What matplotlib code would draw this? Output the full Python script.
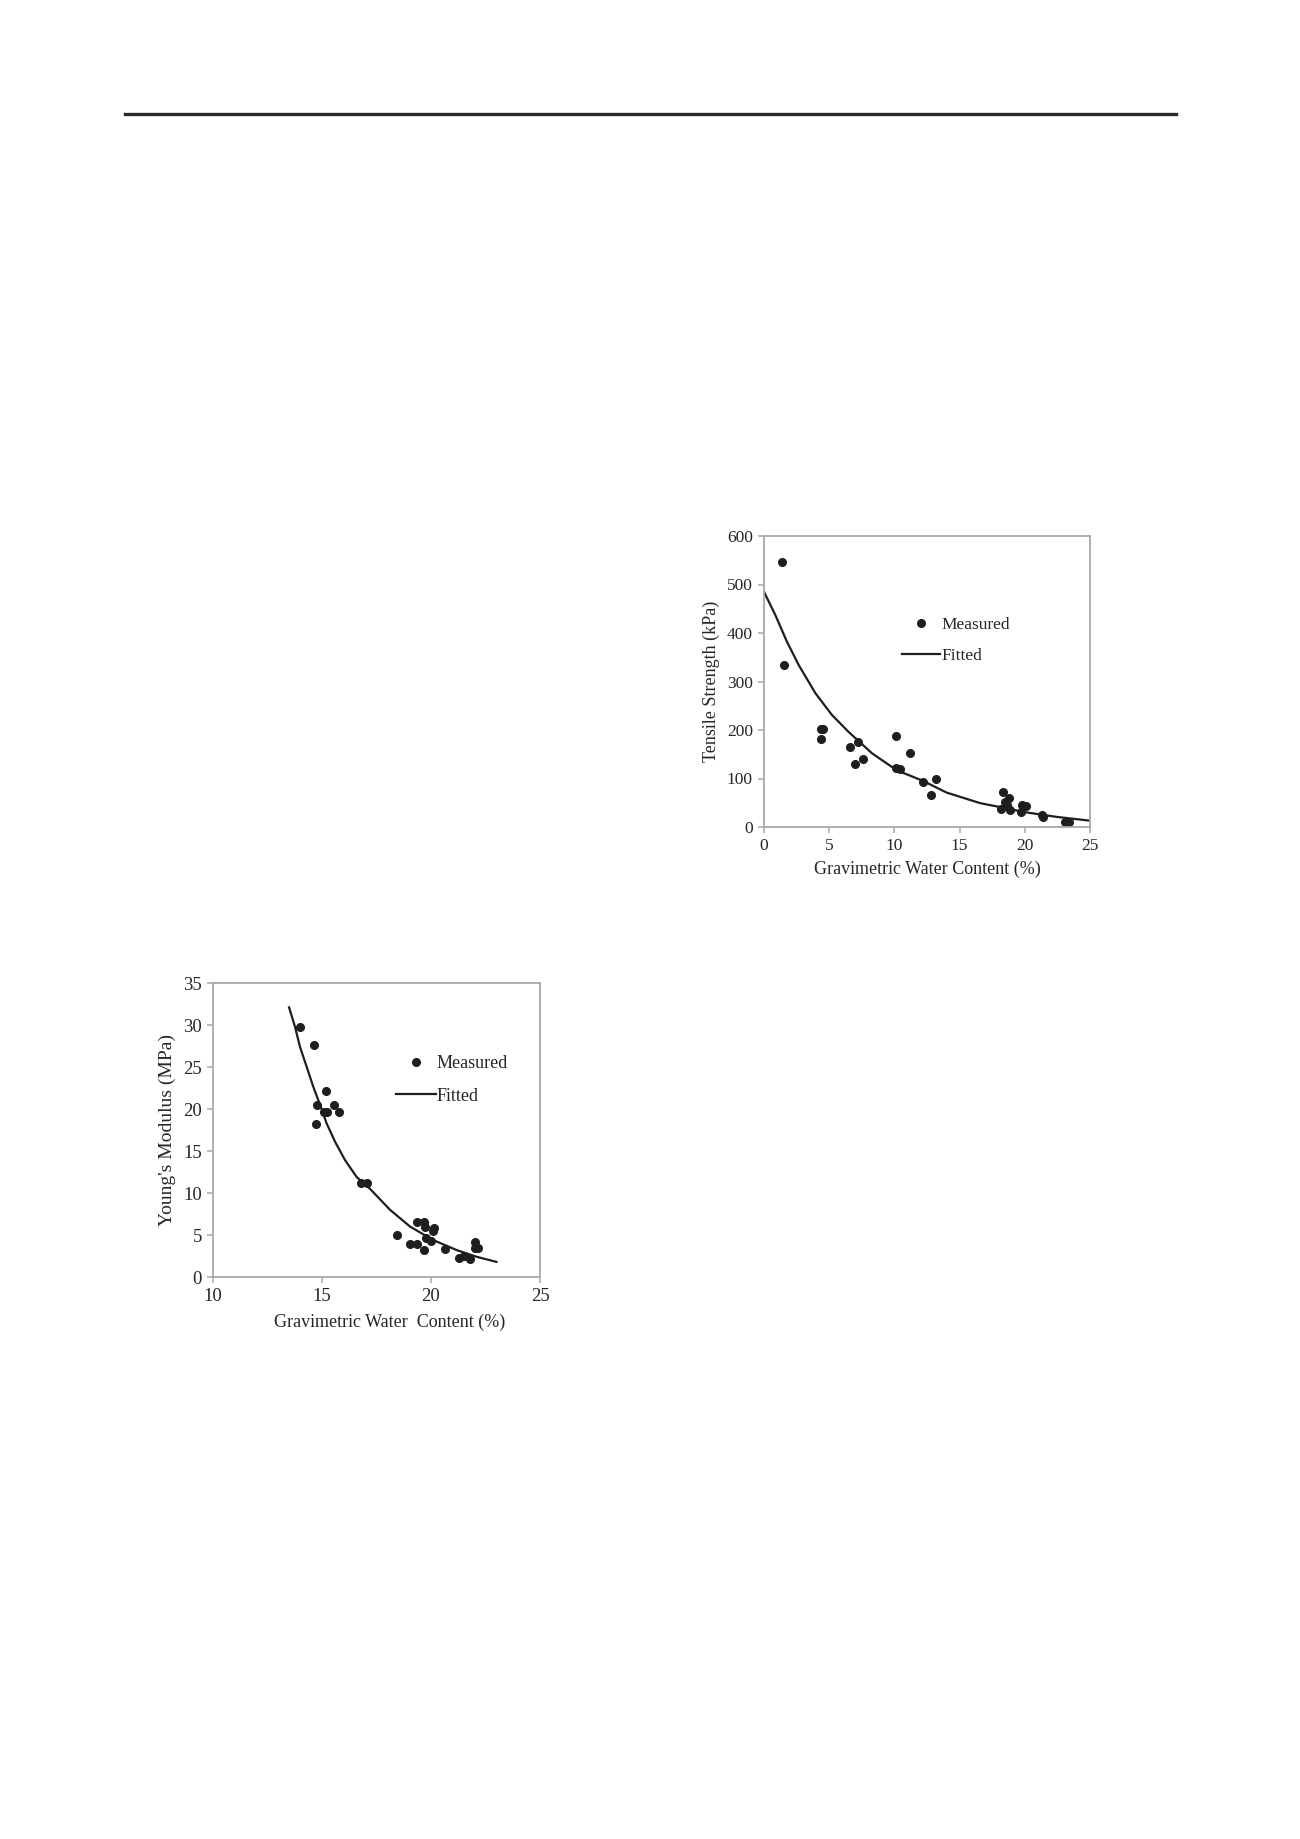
import matplotlib.pyplot as plt
from matplotlib.lines import Line2D

# ---- tensile strength vs water content (upper right panel) ----
ts_w = [1.36, 1.53, 4.37, 4.4, 4.5, 6.6, 7.2, 6.96, 7.57, 10.15, 10.1, 10.4, 11.2,
        12.2, 12.8, 13.2, 18.3, 18.2, 18.5, 18.6, 18.8, 18.9, 19.7, 19.8, 20.1,
        21.3, 21.4, 23.1, 23.4]
ts_kpa = [547, 334, 182, 202, 202, 165, 175, 130, 141, 188, 121, 120, 153,
          93, 65, 98, 72, 38, 51, 46, 60, 36, 31, 45, 43,
          24, 20, 10, 10]
ts_fit_w = [0, 0.87, 1.76, 2.66, 3.94, 5.21, 6.49, 8.28, 10.18, 12.2, 14.0,
            16.6, 18.6, 19.9, 22.4, 25]
ts_fit_kpa = [485, 437, 382, 334, 276, 231, 196, 152, 117, 95, 71,
              49, 38.5, 31, 21, 13]

# ---- Young's modulus vs water content (lower left panel) ----
ym_w = [13.99, 14.62, 14.78, 14.74, 15.2, 15.07, 15.22, 15.54, 15.8, 16.8, 17.05,
        18.43, 19.03, 19.38, 19.37, 19.66, 19.73, 19.7, 19.78, 19.98, 20.15, 20.1,
        20.65, 21.3, 21.5, 21.8, 22.0, 22.0, 22.15]
ym_mpa = [29.8, 27.6, 20.5, 18.2, 22.2, 19.6, 19.6, 20.5, 19.6, 11.2, 11.2,
          5.0, 3.9, 3.9, 6.5, 6.6, 6.0, 3.2, 4.65, 4.25, 5.85, 5.5,
          3.3, 2.3, 2.5, 2.1, 4.2, 3.5, 3.5]
ym_fit_w = [13.49, 13.76, 13.99, 14.30, 14.60, 14.91, 15.21, 15.60, 16.06, 16.59,
            17.2, 18.12, 19.04, 20.1, 21.18, 22.1, 23.0]
ym_fit_mpa = [32.1, 29.8, 27.4, 25.0, 22.65, 20.5, 18.3, 16.1, 13.9, 11.9,
              10.5, 8.0, 6.0, 4.4, 3.2, 2.4, 1.8]

plt.rcParams['font.family'] = ['Liberation Serif', 'DejaVu Serif']
txt = '#262626'
frame = '#a8a8a8'
dot = '#1e1e1e'

fig = plt.figure(figsize=(13, 18.39), dpi=100)
fig.patch.set_facecolor('white')

# rule across the top of the page
fig.add_artist(Line2D([125 / 1300, 1176 / 1300], [1 - 114 / 1839, 1 - 114 / 1839],
                      color='#2a2a2a', lw=2.4))


def style(ax, fs):
    for s in ax.spines.values():
        s.set_color(frame)
        s.set_linewidth(1.3)
    ax.tick_params(direction='out', length=4, width=1.1, color=frame,
                   labelsize=fs, labelcolor=txt, pad=4)


def add_legend(ax, x, y, fs):
    handles = [Line2D([], [], ls='none', marker='o', ms=5.5, color=dot),
               Line2D([], [], color=dot, lw=1.6)]
    ax.legend(handles, ['Measured', 'Fitted'], loc='center left', bbox_to_anchor=(x, y),
              frameon=False, fontsize=fs, handlelength=2.2, handletextpad=0.05,
              labelspacing=0.85, borderpad=0, borderaxespad=0, labelcolor=txt)


# upper right: tensile strength
ax1 = fig.add_axes([764 / 1300, 1 - 827 / 1839, 326 / 1300, 291 / 1839])
ax1.plot(ts_fit_w, ts_fit_kpa, color=dot, lw=1.6)
ax1.plot(ts_w, ts_kpa, 'o', ms=5.5, color=dot)
ax1.set_xlim(0, 25)
ax1.set_ylim(0, 600)
ax1.set_xticks([0, 5, 10, 15, 20, 25])
ax1.set_yticks([0, 100, 200, 300, 400, 500, 600])
ax1.set_xlabel('Gravimetric Water Content (%)', fontsize=13, color=txt, labelpad=5)
ax1.set_ylabel('Tensile Strength (kPa)', fontsize=13, color=txt, labelpad=5)
style(ax1, 12.5)
add_legend(ax1, 0.423, 0.641, 12.5)

# lower left: Young's modulus
ax2 = fig.add_axes([213 / 1300, 1 - 1277 / 1839, 327 / 1300, 294 / 1839])
ax2.plot(ym_fit_w, ym_fit_mpa, color=dot, lw=1.6)
ax2.plot(ym_w, ym_mpa, 'o', ms=5.5, color=dot)
ax2.set_xlim(10, 25)
ax2.set_ylim(0, 35)
ax2.set_xticks([10, 15, 20, 25])
ax2.set_yticks([0, 5, 10, 15, 20, 25, 30, 35])
ax2.set_xlabel('Gravimetric Water  Content (%)', fontsize=13, color=txt, labelpad=5)
ax2.set_ylabel("Young's Modulus (MPa)", fontsize=14, color=txt, labelpad=5)
ax2.xaxis.set_label_coords(0.54, -0.125)
style(ax2, 13.5)
add_legend(ax2, 0.559, 0.67, 13)

plt.savefig('out.png', dpi=100)
